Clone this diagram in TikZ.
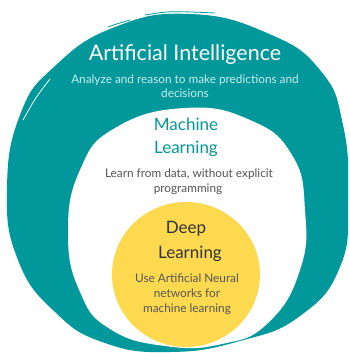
\documentclass[tikz,border=0pt]{standalone}
\usepackage{fontspec}
\setmainfont{Lato}
\definecolor{teal1}{HTML}{00989A}
\definecolor{yel}{HTML}{FCD94F}
\definecolor{pale}{HTML}{CDEDED}
\definecolor{txtgray}{HTML}{555555}
\definecolor{dark}{HTML}{333333}
\begin{document}
\begin{tikzpicture}[x=1pt,y=-1pt,
  title/.style={anchor=base,inner sep=0pt,font=\fontsize{17}{17}\selectfont},
  desc/.style={anchor=base,inner sep=0pt,font=\fontsize{11.8}{12}\selectfont},
  streak/.style={white,line width=0.8pt,line cap=round}]
\useasboundingbox (0,0) rectangle (348,353);
\begin{scope}
\clip (0,0) rectangle (348,353);
% outer brush ring
\fill[teal1] plot[smooth cycle,tension=0.8] coordinates {
  (190,14) (267,33) (320,70) (343,125) (348,200)
  (340,267) (300,316) (240,341) (170,352)
  (105,343) (55,312) (18,260) (7,190)
  (20,115) (55,66) (115,27)};
% inner white area
\fill[white] plot[smooth cycle,tension=0.8] coordinates {
  (185,108) (250,120) (292,155) (305,210)
  (300,270) (268,323) (222,344) (165,346)
  (110,329) (80,292) (68,233) (80,170) (115,128)};
% deep learning disc
\fill[yel] (186,274.5) ellipse (74 and 72.5);
% brush streaks
\draw[streak] (50,79) .. controls (36,97) .. (23,120);
\draw[streak] (12,262) .. controls (20,278) .. (30,292);
\draw[streak] (52,312) .. controls (66,328) .. (90,342);
\draw[streak] (318,60) .. controls (324,66) .. (330,74);
\draw[teal1,line width=0.8pt,line cap=round] (145,15) .. controls (170,11) .. (215,13);
\draw[teal1,line width=0.8pt,line cap=round] (108,27) .. controls (113,25) .. (130,20);
\end{scope}
\node[title,text=white,font=\fontsize{21.5}{22}\selectfont] (ai) at (185,60) {Artificial Intelligence};
\node[desc,text=pale] (aid1) at (185,83) {Analyze and reason to make predictions and};
\node[desc,text=pale] (aid2) at (185,97) {decisions};
\node[title,text=teal1] (ml1) at (186,130) {Machine};
\node[title,text=teal1] (ml2) at (186,153) {Learning};
\node[desc,text=txtgray] (mld1) at (189,177) {Learn from data, without explicit};
\node[desc,text=txtgray] (mld2) at (188,192) {programming};
\node[title,text=dark] (dl1) at (186,233) {Deep};
\node[title,text=dark] (dl2) at (190,258) {Learning};
\node[desc,text=txtgray] (dld1) at (187,282) {Use Artificial Neural};
\node[desc,text=txtgray] (dld2) at (187,297) {networks for};
\node[desc,text=txtgray] (dld3) at (187,312) {machine learning};
\end{tikzpicture}
\end{document}
